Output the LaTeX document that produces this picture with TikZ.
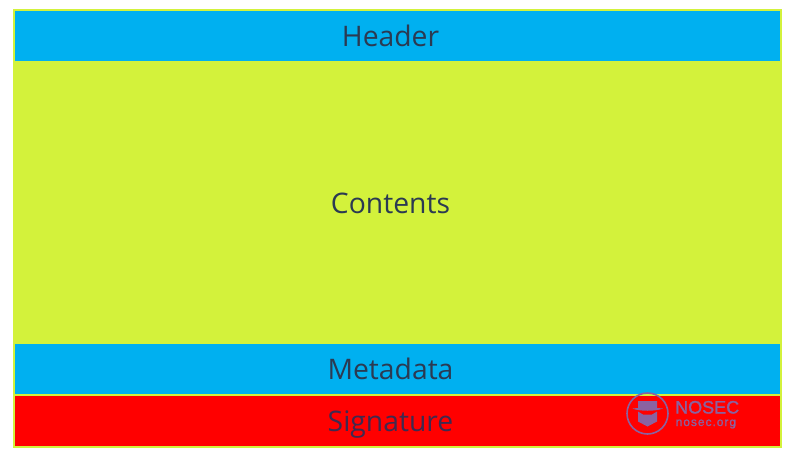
\documentclass[tikz,border=0pt]{standalone}
\usepackage{fontspec}
\setmainfont{Open Sans}
\newfontfamily\logofont[FakeBold=1.2]{Liberation Sans}
\definecolor{lime}{HTML}{D3F23B}
\definecolor{skyb}{HTML}{00B0F0}
\definecolor{ink}{HTML}{2B3A52}
\definecolor{sigink}{HTML}{3E2A50}
\definecolor{logoc}{HTML}{8A62A0}
\tikzset{
  lab/.style={font=\fontsize{28.3}{30}\selectfont,text=ink,inner sep=0pt,anchor=base},
  logoline/.style={draw=logoc,line width=1.6pt,fill=none}
}
\begin{document}
\begin{tikzpicture}[x=1pt,y=-1pt]
\useasboundingbox (0,0) rectangle (790,459);
\fill[white] (0,0) rectangle (790,459);
\fill[lime] (13,9) rectangle (782,448);
\fill[skyb] (15,11) rectangle (780,61);
\fill[skyb] (15,344) rectangle (780,393.5);
\fill[red] (15,395.5) rectangle (780,446);
\node[lab] (header) at (390.5,46) {Header};
\node[lab] (contents) at (390.5,213) {Contents};
\node[lab] (metadata) at (390.5,379.5) {Metadata};
\node[lab,text=sigink] (signature) at (390.5,431.5) {Signature};
% logo
\draw[logoline] (647.5,413.5) circle (20.5);
\fill[logoc] (638,401) -- (657,401) -- (657,408) -- (663,408.5) .. controls (656,411.5) and (639,411.5) .. (632.5,408.5) -- (638,408) -- cycle;
\fill[logoc] (638,411.5) -- (643,414.5) -- (652,414.5) -- (657,411.5) -- (657,421.5) -- (647.5,426.5) -- (638,421.5) -- cycle;
\node[font=\logofont\fontsize{18}{20}\selectfont,text=logoc,inner sep=0pt,anchor=base west] (nosec) at (675,413.5) {NOSEC};
\node[font=\logofont\fontsize{12}{13}\selectfont,text=logoc,inner sep=0pt,anchor=base west] (org) at (675.5,426) {\addfontfeature{LetterSpace=8}nosec.org};
\end{tikzpicture}
\end{document}
